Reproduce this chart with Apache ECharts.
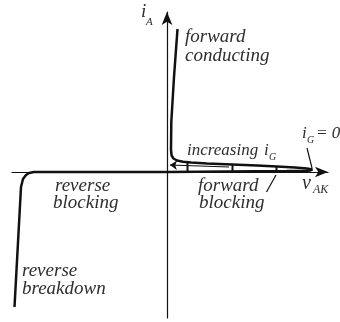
<!DOCTYPE html>
<html>
<head>
<meta charset="utf-8">
<script src="https://cdn.jsdelivr.net/npm/echarts@6/dist/echarts.min.js"></script>
<style>
  html, body { margin: 0; padding: 0; background: #fff; }
  #main { width: 340px; height: 322px; }
</style>
</head>
<body>
<div id="main"></div>
<script>
// thyristor i_A / v_AK sketch, arbitrary units
var onStateV = [10.5, 7, 4.3, 4, 4.6, 6.5, 10, 16, 24, 40, 65, 90, 110, 128, 140, 145.5];
var onStateI = [143, 95, 50, 22, 16.5, 13.5, 11.5, 10.3, 9.6, 8.6, 7.5, 6.4, 5.5, 4.5, 3.5, 2.6];
var blockV = [0, 60, 120, 138, 143, 145.5];
var blockI = [0, 0.5, 0.9, 1.1, 1.5, 2.6];
var reverseV = [0, -133, -138, -141, -144, -146, -152.5];
var reverseI = [0, 0, -1, -3, -7, -15, -135];
// breakover points for increasing gate current
var breakoverV = [20.5, 65.5, 109.5];
var breakoverLowI = [0.6, 0.6, 0.9];
var breakoverHighI = [9.8, 7.5, 5.5];
var gateArrowV = [62, 3];
var gateArrowI = [5, 7];
var igZeroPointerV = [140, 145];
var igZeroPointerI = [24, 4];
var blockPointerV = [99.5, 109];
var blockPointerI = [-20, -3];

function zip(xs, ys) {
  return xs.map(function (x, k) { return [x, ys[k]]; });
}

var myChart = echarts.init(document.getElementById('main'));

var ink = '#111';
var txt = '#2e2e2e';
var serif = '"Liberation Serif", "DejaVu Serif", serif';

function curve(data, w) {
  return {
    type: 'line',
    data: data,
    symbol: 'none',
    smooth: false,
    lineStyle: { color: ink, width: w },
    silent: true
  };
}

var series = [
  curve(zip(onStateV, onStateI), 2.5),
  curve(zip(blockV, blockI), 2.5),
  curve(zip(reverseV, reverseI), 2.5)
];

breakoverV.forEach(function (v, k) {
  series.push(curve([[v, breakoverLowI[k]], [v, breakoverHighI[k]]], 2));
});

series.push({
  type: 'lines',
  coordinateSystem: 'cartesian2d',
  symbol: ['none', 'arrow'],
  symbolSize: 7,
  lineStyle: { color: ink, width: 1.2, opacity: 1 },
  data: [{ coords: zip(gateArrowV, gateArrowI) }],
  silent: true
});
series.push({
  type: 'lines',
  coordinateSystem: 'cartesian2d',
  symbol: 'none',
  lineStyle: { color: ink, width: 1.2, opacity: 1 },
  data: [
    { coords: zip(igZeroPointerV, igZeroPointerI) },
    { coords: zip(blockPointerV, blockPointerI) }
  ],
  silent: true
});

function label(text, x, y, size) {
  return {
    type: 'text',
    x: x,
    y: y,
    style: {
      text: text,
      font: 'italic ' + size + 'px ' + serif,
      fill: txt,
      verticalAlign: 'middle'
    }
  };
}

var option = {
  animation: false,
  grid: { left: 12, right: 12, top: 12, bottom: 4 },
  xAxis: {
    type: 'value',
    min: -155,
    max: 161,
    axisLine: {
      show: true,
      symbol: ['none', 'arrow'],
      symbolSize: [8, 13],
      lineStyle: { color: ink, width: 1.2 }
    },
    axisTick: { show: false },
    axisLabel: { show: false },
    splitLine: { show: false }
  },
  yAxis: {
    type: 'value',
    min: -146,
    max: 160,
    axisLine: {
      show: true,
      symbol: ['none', 'arrow'],
      symbolSize: [8, 13],
      lineStyle: { color: ink, width: 1.2 }
    },
    axisTick: { show: false },
    axisLabel: { show: false },
    splitLine: { show: false }
  },
  graphic: [
    label('i', 141, 12, 19),
    label('A', 146, 22, 11),
    label('forward', 185, 37, 19),
    label('conducting', 185, 56, 19),
    label('increasing', 187, 151, 17),
    label('i', 264, 151, 17),
    label('G', 269, 157, 10),
    label('i', 302, 134, 17),
    label('G', 307, 140, 10),
    label('= 0', 316, 134, 17),
    label('forward', 198, 186, 19),
    label('blocking', 199, 203, 19),
    label('v', 302, 184, 20),
    label('AK', 313, 190, 12),
    label('reverse', 55, 186, 19),
    label('blocking', 53, 203, 19),
    label('reverse', 22, 271, 19),
    label('breakdown', 22, 289, 19)
  ],
  series: series
};

myChart.setOption(option);
</script>
</body>
</html>
